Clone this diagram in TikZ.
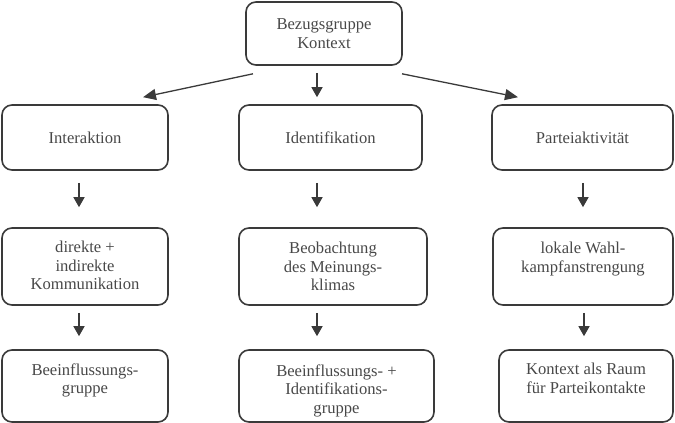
\documentclass[tikz,border=0pt]{standalone}
\usepackage{fontspec}
\setmainfont{Liberation Serif}
\usetikzlibrary{arrows.meta}
\definecolor{linegray}{HTML}{3A3A3A}
\definecolor{textgray}{HTML}{484848}
\newcommand{\boxfont}{\fontsize{16.6}{18.5}\selectfont}

\begin{document}
\begin{tikzpicture}[x=1pt,y=-1pt,
  box/.style={draw=linegray,line width=1.6pt,rounded corners=10pt,inner sep=0pt,align=center,text=textgray,font=\boxfont},
  toptext/.style={anchor=north,inner sep=0pt,yshift=-#1,align=center,text=textgray,font=\boxfont},
  arr/.style={draw=linegray,line width=1.3pt,-{Triangle[length=10pt,width=11pt]}},
  diag/.style={draw=linegray,line width=1.3pt,-{Triangle[length=13pt,width=11pt]}}]
\useasboundingbox (0,0) rectangle (675,423);

% top
\node[box,minimum width=156pt,minimum height=63pt] (ctx) at (324,33.5) {Bezugsgruppe\\Kontext};

% row 2
\node[box,minimum width=166pt,minimum height=65pt] (inter) at (85,137.5) {Interaktion};
\node[box,minimum width=183pt,minimum height=65pt] (ident) at (330.5,137.5) {Identifikation};
\node[box,minimum width=181pt,minimum height=65pt] (part) at (582.5,137.5) {Parteiaktivität};

% row 3
\node[box,minimum width=166pt,minimum height=77pt,label={[toptext=14pt]north:direkte +\\indirekte\\Kommunikation}] (komm) at (85,266.5) {};
\node[box,minimum width=188pt,minimum height=77pt,label={[toptext=15pt]north:Beobachtung\\des Meinungs-\\klimas}] (klima) at (333,266.5) {};
\node[box,minimum width=180pt,minimum height=77pt,label={[toptext=15pt]north:lokale Wahl-\\kampfanstrengung}] (wahl) at (583,266.5) {};

% row 4
\node[box,minimum width=166pt,minimum height=72pt,label={[toptext=14pt]north:Beeinflussungs-\\gruppe}] (beein) at (85,386) {};
\node[box,minimum width=195pt,minimum height=72pt,label={[toptext=15pt]north:Beeinflussungs- +\\Identifikations-\\gruppe}] (beident) at (336.5,386) {};
\node[box,minimum width=174pt,minimum height=72pt,label={[toptext=14pt]north:Kontext als Raum\\für Parteikontakte}] (raum) at (586,386) {};

% arrows from the top
\draw[diag] ([xshift=-71pt,yshift=-8pt]ctx.south) -- ([xshift=58pt,yshift=7pt]inter.north);
\draw[arr] ([xshift=-7pt,yshift=-7pt]ctx.south) -- ([xshift=-13.5pt,yshift=7pt]ident.north);
\draw[diag] ([xshift=78pt,yshift=-8pt]ctx.south) -- ([xshift=-64.5pt,yshift=7pt]part.north);

% row 2 -> row 3
\draw[arr] ([xshift=-6pt,yshift=-12pt]inter.south) -- ([xshift=-6pt,yshift=20pt]komm.north);
\draw[arr] ([xshift=-13.5pt,yshift=-12pt]ident.south) -- ([xshift=-16pt,yshift=20pt]klima.north);
\draw[arr] ([xshift=0.5pt,yshift=-12pt]part.south) -- ([xshift=0pt,yshift=20pt]wahl.north);

% row 3 -> row 4
\draw[arr] ([xshift=-6pt,yshift=-7pt]komm.south) -- ([xshift=-6pt,yshift=13pt]beein.north);
\draw[arr] ([xshift=-16pt,yshift=-7pt]klima.south) -- ([xshift=-19.5pt,yshift=13pt]beident.north);
\draw[arr] ([xshift=1pt,yshift=-7pt]wahl.south) -- ([xshift=-2pt,yshift=13pt]raum.north);
\end{tikzpicture}
\end{document}
